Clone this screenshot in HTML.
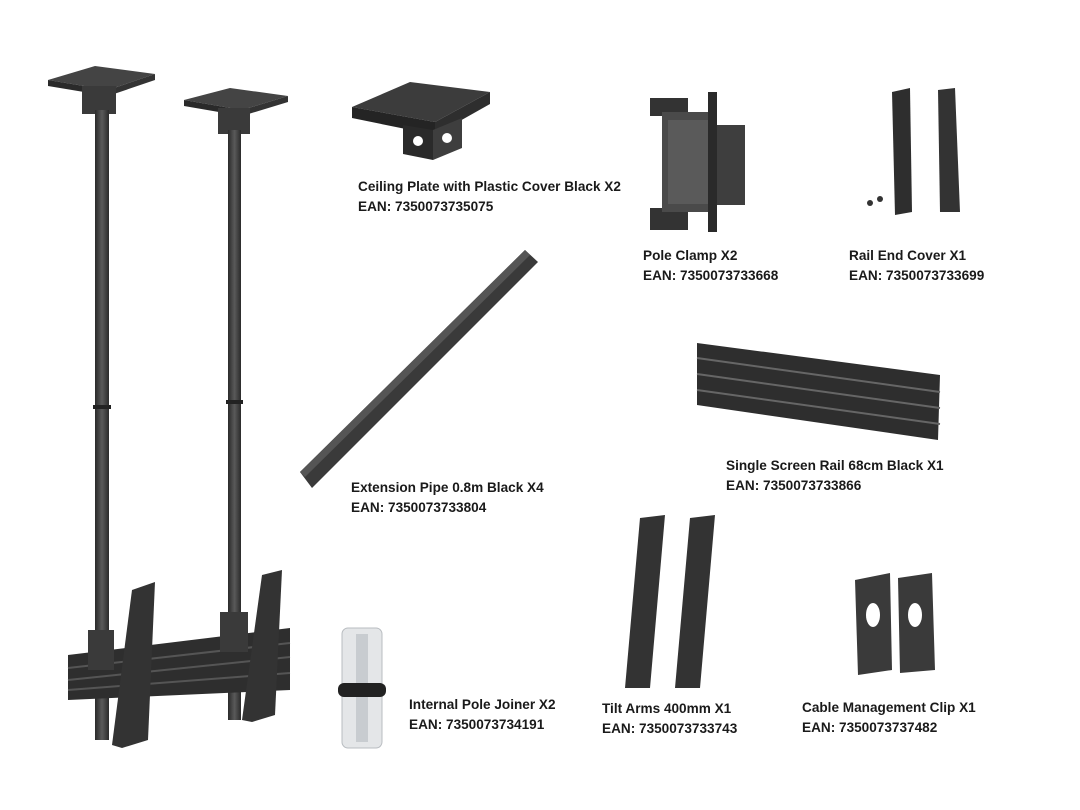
<!DOCTYPE html>
<html><head><meta charset="utf-8"><style>
html,body{margin:0;padding:0;background:#fff;}
#c{position:relative;width:1080px;height:810px;overflow:hidden;background:#fff;}
.t{position:absolute;font-family:"Liberation Sans",sans-serif;font-weight:bold;font-size:13.6px;color:#1a1a1a;line-height:20px;letter-spacing:0px;white-space:nowrap;}
svg{position:absolute;left:0;top:0;}
</style></head><body><div id="c">
<svg width="1080" height="810" viewBox="0 0 1080 810">
<defs>
<linearGradient id="p" x1="0" x2="1"><stop offset="0" stop-color="#2a2a2a"/><stop offset="0.5" stop-color="#5a5a5a"/><stop offset="1" stop-color="#2a2a2a"/></linearGradient>
</defs>
<polygon points="48,80 95,66 155,74 108,90" fill="#444"/>
<polygon points="48,80 108,90 108,96 48,86" fill="#2a2a2a"/>
<polygon points="108,90 155,74 155,80 108,96" fill="#333"/>
<rect x="82" y="86" width="34" height="28" fill="#3a3a3a"/>
<rect x="95" y="110" width="14" height="630" fill="url(#p)"/>
<rect x="93" y="405" width="18" height="4" fill="#222"/>
<polygon points="184,100 230,88 288,96 242,110" fill="#444"/>
<polygon points="184,100 242,110 242,116 184,106" fill="#2a2a2a"/>
<polygon points="242,110 288,96 288,102 242,116" fill="#333"/>
<rect x="218" y="108" width="32" height="26" fill="#3a3a3a"/>
<rect x="228" y="130" width="13" height="590" fill="url(#p)"/>
<rect x="226" y="400" width="17" height="4" fill="#222"/>
<polygon points="68,655 290,628 290,690 68,700" fill="#2e2e2e"/>
<line x1="68" y1="668" x2="290" y2="643" stroke="#555" stroke-width="2"/>
<line x1="68" y1="680" x2="290" y2="657" stroke="#555" stroke-width="2"/>
<line x1="68" y1="690" x2="290" y2="673" stroke="#555" stroke-width="2"/>
<rect x="95" y="700" width="14" height="40" fill="url(#p)"/>
<polygon points="132,590 155,582 148,740 122,748 112,745" fill="#333"/>
<polygon points="262,575 282,570 275,715 252,722 242,720" fill="#333"/>
<rect x="88" y="630" width="26" height="40" fill="#3a3a3a"/>
<rect x="220" y="612" width="28" height="40" fill="#3a3a3a"/>
<polygon points="352,107 410,82 490,92 435,122" fill="#3c3c3c"/>
<polygon points="352,107 435,122 435,135 352,118" fill="#242424"/>
<polygon points="435,122 490,92 490,104 435,135" fill="#2e2e2e"/>
<polygon points="403,125 433,130 433,160 403,154" fill="#2a2a2a"/>
<polygon points="433,130 462,118 462,148 433,160" fill="#3e3e3e"/>
<circle cx="418" cy="141" r="5" fill="#fff"/><circle cx="447" cy="138" r="5" fill="#fff"/>
<rect x="650" y="98" width="38" height="18" fill="#333"/>
<rect x="650" y="208" width="38" height="22" fill="#333"/>
<rect x="662" y="112" width="52" height="100" fill="#4a4a4a"/>
<rect x="668" y="120" width="40" height="84" fill="#5a5a5a"/>
<rect x="714" y="125" width="31" height="80" fill="#3e3e3e"/>
<rect x="708" y="92" width="9" height="140" fill="#2a2a2a"/>
<polygon points="892,92 910,88 912,212 895,215" fill="#2e2e2e"/>
<polygon points="938,90 955,88 960,212 940,212" fill="#333"/>
<circle cx="870" cy="203" r="3" fill="#333"/><circle cx="880" cy="199" r="3" fill="#333"/>
<polygon points="300,472 525,250 538,262 312,488" fill="#3a3a3a"/>
<polygon points="300,472 525,250 530,255 305,477" fill="#555"/>
<polygon points="697,343 940,375 938,440 697,405" fill="#2e2e2e"/>
<line x1="697" y1="358" x2="940" y2="392" stroke="#666" stroke-width="2"/>
<line x1="697" y1="374" x2="940" y2="408" stroke="#666" stroke-width="2"/>
<line x1="697" y1="390" x2="940" y2="424" stroke="#666" stroke-width="2"/>
<rect x="342" y="628" width="40" height="120" rx="6" fill="#e4e6e8" stroke="#b8bcc0"/>
<rect x="356" y="634" width="12" height="108" fill="#c8ccd0"/>
<rect x="338" y="683" width="48" height="14" rx="6" fill="#222"/>
<polygon points="640,518 665,515 650,688 625,688" fill="#333"/>
<polygon points="690,518 715,515 700,688 675,688" fill="#333"/>
<polygon points="855,580 890,573 892,670 858,675" fill="#3a3a3a"/>
<polygon points="898,578 932,573 935,670 900,673" fill="#3a3a3a"/>
<ellipse cx="873" cy="615" rx="7" ry="12" fill="#fff"/><ellipse cx="915" cy="615" rx="7" ry="12" fill="#fff"/>
</svg>
<div class="t" style="left:358px;top:177px">Ceiling Plate with Plastic Cover Black X2<br>EAN: 7350073735075</div>
<div class="t" style="left:643px;top:246px">Pole Clamp X2<br>EAN: 7350073733668</div>
<div class="t" style="left:849px;top:246px">Rail End Cover X1<br>EAN: 7350073733699</div>
<div class="t" style="left:351px;top:478px">Extension Pipe 0.8m Black X4<br>EAN: 7350073733804</div>
<div class="t" style="left:726px;top:456px">Single Screen Rail 68cm Black X1<br>EAN: 7350073733866</div>
<div class="t" style="left:409px;top:695px">Internal Pole Joiner X2<br>EAN: 7350073734191</div>
<div class="t" style="left:602px;top:699px">Tilt Arms 400mm X1<br>EAN: 7350073733743</div>
<div class="t" style="left:802px;top:698px">Cable Management Clip X1<br>EAN: 7350073737482</div>
</div></body></html>
